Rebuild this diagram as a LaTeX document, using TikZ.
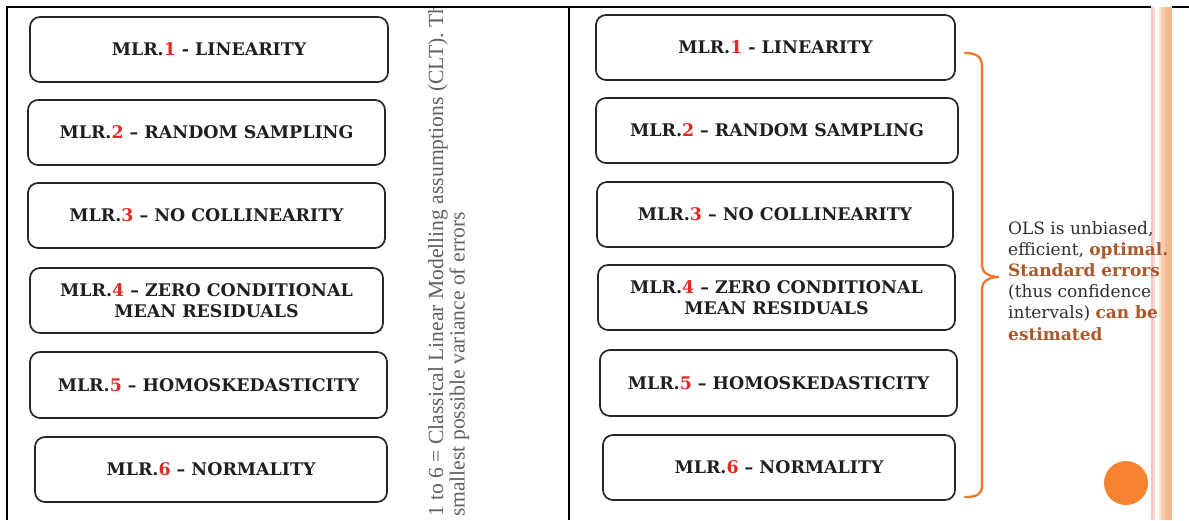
\documentclass[tikz,border=0pt]{standalone}
\usepackage{fontspec}
\setmainfont{DejaVu Serif}
\newfontfamily\timesf{Liberation Serif}
\definecolor{numred}{RGB}{228,40,36}
\definecolor{olsbrown}{RGB}{172,88,42}
\definecolor{braceor}{RGB}{240,120,40}
\definecolor{dotor}{RGB}{247,130,48}
\definecolor{stA}{RGB}{246,196,188}
\definecolor{stB}{RGB}{250,222,214}
\definecolor{stC}{RGB}{246,236,214}
\definecolor{stD}{RGB}{248,204,176}
\definecolor{stE}{RGB}{247,184,144}
\tikzset{
  mlrbox/.style={draw=black!85, line width=1.7pt, rounded corners=10pt,
    minimum height=65pt, align=center, inner sep=0pt,
    font=\bfseries\fontsize{17.4}{21}\selectfont, text=black!88},
  rule/.style={line width=1.8pt, black},
}
\newcommand{\nm}[1]{\textcolor{numred}{#1}}
\newcommand{\hb}[1]{\textbf{\textcolor{olsbrown}{#1}}}
\begin{document}
\begin{tikzpicture}[x=1pt,y=-1pt]
\useasboundingbox (0,0) rectangle (1189,520);
\fill[white] (0,0) rectangle (1189,520);
% table rules
\draw[rule] (7,520) -- (7,7) -- (1189,7);
\draw[rule] (569,7) -- (569,520);
% side stripes (break the top rule)
\fill[white] (1150.5,4) rectangle (1171.7,10);
\fill[stA] (1151,7) rectangle (1152.8,520);
\fill[stB] (1153.3,7) rectangle (1155.3,520);
\fill[stC] (1158.7,7) rectangle (1160.7,520);
\fill[stD] (1160.7,7) rectangle (1165.3,520);
\fill[stE] (1165.3,7) rectangle (1171.7,520);
% left boxes
\node[mlrbox, minimum width=358pt] (L1) at (209,49.5) {MLR.\nm{1} - LINEARITY};
\node[mlrbox, minimum width=357pt] (L2) at (206.5,132.5) {MLR.\nm{2} – RANDOM SAMPLING};
\node[mlrbox, minimum width=357pt] (L3) at (206.5,215.5) {MLR.\nm{3} – NO COLLINEARITY};
\node[mlrbox, minimum width=353pt] (L4) at (206.5,300.5) {MLR.\nm{4} – ZERO CONDITIONAL\\MEAN RESIDUALS};
\node[mlrbox, minimum width=357pt, minimum height=66pt] (L5) at (208.5,385) {MLR.\nm{5} – HOMOSKEDASTICITY};
\node[mlrbox, minimum width=352pt] (L6) at (211,469.5) {MLR.\nm{6} – NORMALITY};
% rotated caption
\begin{scope}
\clip (400,8.5) rectangle (567,520);
\node[rotate=90, anchor=north west, inner sep=0pt, align=left, text=black!62,
  font=\timesf\fontsize{21.6}{21.5}\selectfont] (cap) at (428,517)
  {1 to 6 = Classical Linear Modelling assumptions (CLT). The\\smallest possible variance of errors};
\end{scope}
% right boxes
\node[mlrbox, minimum width=359pt] (R1) at (775.5,47.5) {MLR.\nm{1} - LINEARITY};
\node[mlrbox, minimum width=362pt] (R2) at (777,130.5) {MLR.\nm{2} – RANDOM SAMPLING};
\node[mlrbox, minimum width=356pt] (R3) at (775,214.5) {MLR.\nm{3} – NO COLLINEARITY};
\node[mlrbox, minimum width=357pt] (R4) at (776.5,297.5) {MLR.\nm{4} – ZERO CONDITIONAL\\MEAN RESIDUALS};
\node[mlrbox, minimum width=357pt, minimum height=66pt] (R5) at (778.5,383) {MLR.\nm{5} – HOMOSKEDASTICITY};
\node[mlrbox, minimum width=352pt] (R6) at (779,467.5) {MLR.\nm{6} – NORMALITY};
% brace
\coordinate (btop) at (965,53);
\coordinate (btip) at (999,277);
\coordinate (bbot) at (965,497);
\draw[braceor, line width=2.3pt, line cap=round]
  (btop) .. controls (977,53) and (982,57) .. (982,67) -- (982,266)
  .. controls (982,273) and (990,277) .. (btip)
  .. controls (990,277) and (982,281) .. (982,288) -- (982,486)
  .. controls (982,494) and (977,497) .. (bbot);
% right text
\node[anchor=north west, align=left, inner sep=0pt, text=black!82,
  font=\fontsize{17}{21.2}\selectfont] (ols) at (1008,221)
  {OLS is unbiased,\\efficient, \hb{optimal.}\\\hb{Standard errors}\\(thus confidence\\intervals) \hb{can be}\\\hb{estimated}};
% orange dot
\node[circle, fill=dotor, minimum size=44pt, inner sep=0pt] (dot) at (1126,483) {};
\end{tikzpicture}
\end{document}
